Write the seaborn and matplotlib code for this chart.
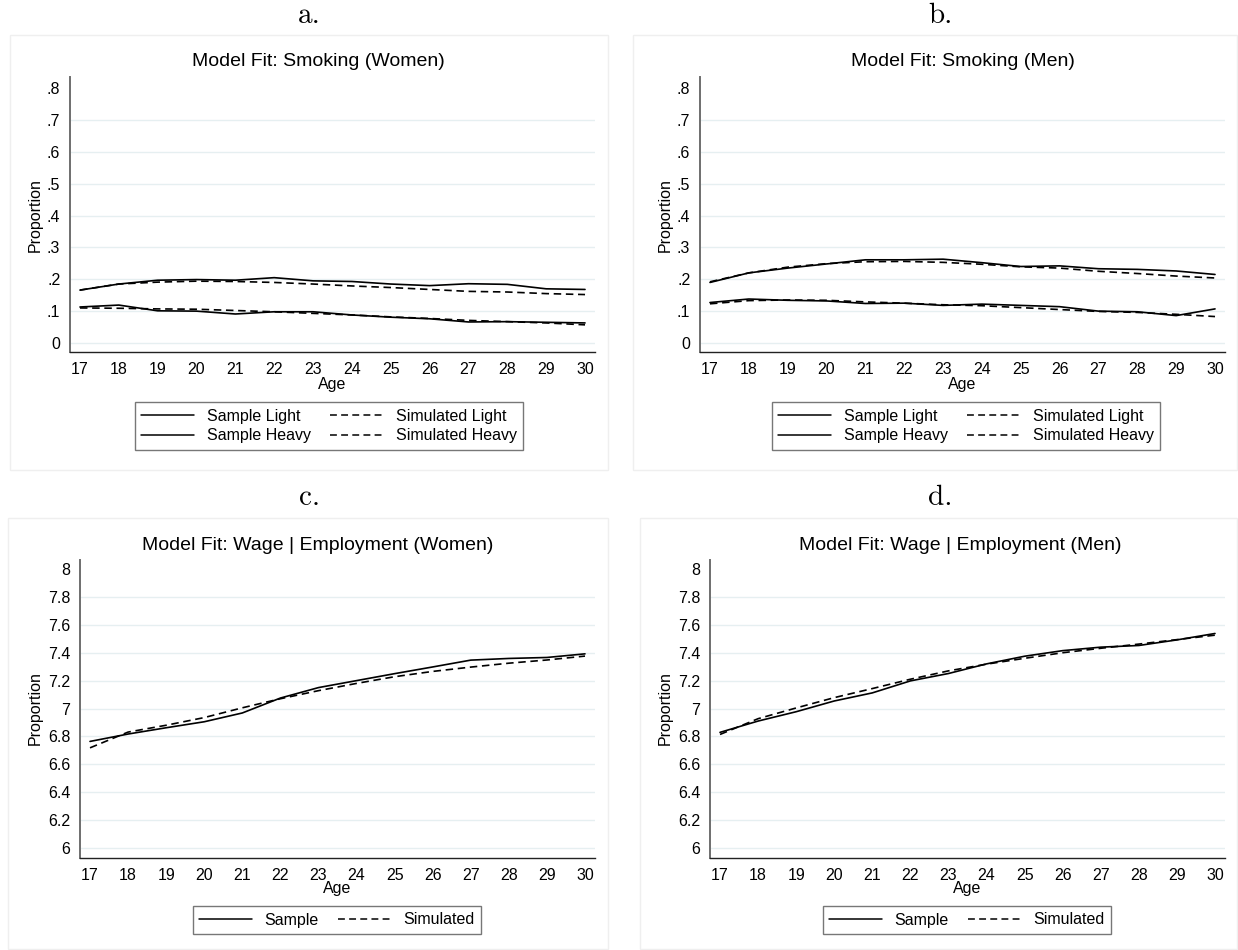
import matplotlib
matplotlib.use("Agg")
import matplotlib.pyplot as plt
import numpy as np
import pandas as pd
import seaborn as sns
from matplotlib.patches import Rectangle
from matplotlib.lines import Line2D

# ---- data ----
ages = list(range(17, 31))

# a. smoking, women
w_light_sample = [0.166, 0.185, 0.197, 0.199, 0.197, 0.205, 0.195, 0.193, 0.185, 0.180, 0.186, 0.184, 0.170, 0.168]
w_light_sim = [0.166, 0.185, 0.191, 0.194, 0.193, 0.190, 0.185, 0.179, 0.174, 0.168, 0.162, 0.160, 0.155, 0.152]
w_heavy_sample = [0.113, 0.119, 0.101, 0.100, 0.091, 0.098, 0.098, 0.088, 0.081, 0.076, 0.066, 0.067, 0.065, 0.063]
w_heavy_sim = [0.110, 0.109, 0.107, 0.106, 0.102, 0.098, 0.093, 0.088, 0.082, 0.077, 0.071, 0.067, 0.063, 0.057]

# b. smoking, men
m_light_sample = [0.190, 0.220, 0.235, 0.248, 0.261, 0.261, 0.263, 0.252, 0.240, 0.242, 0.233, 0.231, 0.226, 0.215]
m_light_sim = [0.192, 0.220, 0.238, 0.249, 0.255, 0.256, 0.253, 0.247, 0.239, 0.235, 0.225, 0.218, 0.210, 0.204]
m_heavy_sample = [0.127, 0.138, 0.134, 0.132, 0.124, 0.125, 0.118, 0.122, 0.118, 0.114, 0.100, 0.098, 0.086, 0.107]
m_heavy_sim = [0.123, 0.133, 0.135, 0.134, 0.129, 0.125, 0.120, 0.117, 0.111, 0.105, 0.099, 0.096, 0.090, 0.083]

# c. wage | employment, women
w_wage_sample = [6.764, 6.817, 6.862, 6.905, 6.968, 7.075, 7.150, 7.200, 7.250, 7.298, 7.347, 7.359, 7.366, 7.392]
w_wage_sim = [6.718, 6.831, 6.880, 6.935, 7.005, 7.070, 7.128, 7.180, 7.228, 7.266, 7.297, 7.325, 7.348, 7.376]

# d. wage | employment, men
m_wage_sample = [6.829, 6.910, 6.977, 7.054, 7.112, 7.198, 7.251, 7.320, 7.375, 7.415, 7.440, 7.452, 7.492, 7.538]
m_wage_sim = [6.814, 6.927, 7.004, 7.078, 7.143, 7.210, 7.270, 7.318, 7.360, 7.400, 7.432, 7.462, 7.494, 7.526]

smoke_ticks = [0, 0.1, 0.2, 0.3, 0.4, 0.5, 0.6, 0.7, 0.8]
smoke_labels = ["0", ".1", ".2", ".3", ".4", ".5", ".6", ".7", ".8"]
wage_ticks = [6, 6.2, 6.4, 6.6, 6.8, 7, 7.2, 7.4, 7.6, 7.8, 8]
wage_labels = ["6", "6.2", "6.4", "6.6", "6.8", "7", "7.2", "7.4", "7.6", "7.8", "8"]

sns.set_style("white")
plt.rcParams["font.family"] = ["Liberation Sans", "DejaVu Sans"]
plt.rcParams["text.color"] = "black"
plt.rcParams["axes.labelcolor"] = "black"
plt.rcParams["xtick.color"] = "black"
plt.rcParams["ytick.color"] = "black"

W, H = 1238, 950
fig = plt.figure(figsize=(W / 100, H / 100), dpi=100)


def fx(x):
    return x / W


def fy(y):
    return 1 - y / H


def make_ax(left, top, right, bottom):
    return fig.add_axes([fx(left), fy(bottom), (right - left) / W, (bottom - top) / H])


# light outer boxes of each panel
for (l, t, r, b) in [(10, 35, 608, 470), (633, 35, 1237, 470), (8, 518, 608, 949), (640, 518, 1237, 949)]:
    fig.add_artist(Rectangle((fx(l), fy(b)), (r - l) / W, (b - t) / H, transform=fig.transFigure,
                             fill=False, edgecolor="#efefef", lw=1))

solid = "-"
dashed = (0, (4.5, 2.8))


def style_ax(ax, ticks, labels, lims, xlims):
    ax.set_xlim(*xlims)
    ax.set_ylim(*lims)
    ax.set_xticks(ages)
    ax.set_xticklabels([str(a) for a in ages])
    ax.set_yticks(ticks)
    ax.set_yticklabels(labels)
    for v in ticks[:-1]:
        ax.axhline(v, color="#e6eff1", lw=1, zorder=0)
    ax.spines["top"].set_visible(False)
    ax.spines["right"].set_visible(False)
    ax.spines["left"].set_color("#6e6e6e")
    ax.spines["left"].set_linewidth(1.4)
    ax.spines["bottom"].set_color("#222222")
    ax.spines["bottom"].set_linewidth(1.0)
    ax.tick_params(axis="both", direction="out", length=4, width=0.9, color="#333333",
                   labelsize=11.5, pad=3, labelcolor="black")
    ax.tick_params(axis="x", pad=3.5)
    ax.set_xlabel("")
    ax.set_ylabel("")


def draw(ax, series):
    for vals, ls in series:
        sns.lineplot(x=ages, y=vals, ax=ax, color="black", linewidth=1.2, linestyle=ls, legend=False)


smoke_ylim = (-0.0282, 0.8345)
wage_ylim = (5.928, 8.065)

# a.
ax_a = make_ax(70, 77, 595, 352)
draw(ax_a, [(w_light_sample, solid), (w_heavy_sample, solid), (w_light_sim, dashed), (w_heavy_sim, dashed)])
style_ax(ax_a, smoke_ticks, smoke_labels, smoke_ylim, (16.743, 30.257))

# b.
ax_b = make_ax(700, 77, 1225, 352)
draw(ax_b, [(m_light_sample, solid), (m_heavy_sample, solid), (m_light_sim, dashed), (m_heavy_sim, dashed)])
style_ax(ax_b, smoke_ticks, smoke_labels, smoke_ylim, (16.743, 30.257))

# c.
ax_c = make_ax(80, 560, 595, 858)
draw(ax_c, [(w_wage_sample, solid), (w_wage_sim, dashed)])
style_ax(ax_c, wage_ticks, wage_labels, wage_ylim, (16.737, 30.263))

# d.
ax_d = make_ax(710, 560, 1225, 858)
draw(ax_d, [(m_wage_sample, solid), (m_wage_sim, dashed)])
style_ax(ax_d, wage_ticks, wage_labels, wage_ylim, (16.737, 30.263))

# panel letters
for txt, x, y in [("a.", 309, 16), ("b.", 940, 16), ("c.", 309, 498), ("d.", 940, 498)]:
    fig.text(fx(x), fy(y), txt, family="cmr10", fontsize=21, ha="center", va="center")

# titles
for txt, x, y in [("Model Fit: Smoking (Women)", 318, 62), ("Model Fit: Smoking (Men)", 963, 62),
                  ("Model Fit: Wage | Employment (Women)", 318, 546), ("Model Fit: Wage | Employment (Men)", 960, 546)]:
    fig.text(fx(x), fy(y), txt, fontsize=14, ha="center", va="center")

# axis titles
for x, y in [(332, 385), (962, 385), (337, 889), (967, 889)]:
    fig.text(fx(x), fy(y), "Age", fontsize=11.5, ha="center", va="center")
for x, y in [(35, 215), (665, 215), (35, 708), (665, 708)]:
    fig.text(fx(x), fy(y), "Proportion", fontsize=11.5, ha="center", va="center", rotation=90)

# legends
h_solid = Line2D([], [], color="black", lw=1.1, linestyle=solid)
h_dash = Line2D([], [], color="black", lw=1.1, linestyle=dashed)
smoke_handles = [h_solid, h_solid, h_dash, h_dash]
smoke_names = ["Sample Light", "Sample Heavy", "Simulated Light", "Simulated Heavy"]
wage_handles = [h_solid, h_dash]
wage_names = ["Sample", "Simulated"]

for handles, names, ncol, x, y in [(smoke_handles, smoke_names, 2, 329, 426),
                                   (smoke_handles, smoke_names, 2, 966, 426),
                                   (wage_handles, wage_names, 2, 337, 920),
                                   (wage_handles, wage_names, 2, 967, 920)]:
    leg = fig.legend(handles, names, loc="center", bbox_to_anchor=(fx(x), fy(y)), ncol=ncol,
                     fontsize=11.5, frameon=True, fancybox=False, handlelength=3.3,
                     columnspacing=1.2, handletextpad=0.8, labelspacing=0.3,
                     borderpad=0.4, borderaxespad=0)
    leg.get_frame().set_edgecolor("#555555")
    leg.get_frame().set_linewidth(1.0)

fig.savefig("out.png", dpi=100, facecolor="white")
